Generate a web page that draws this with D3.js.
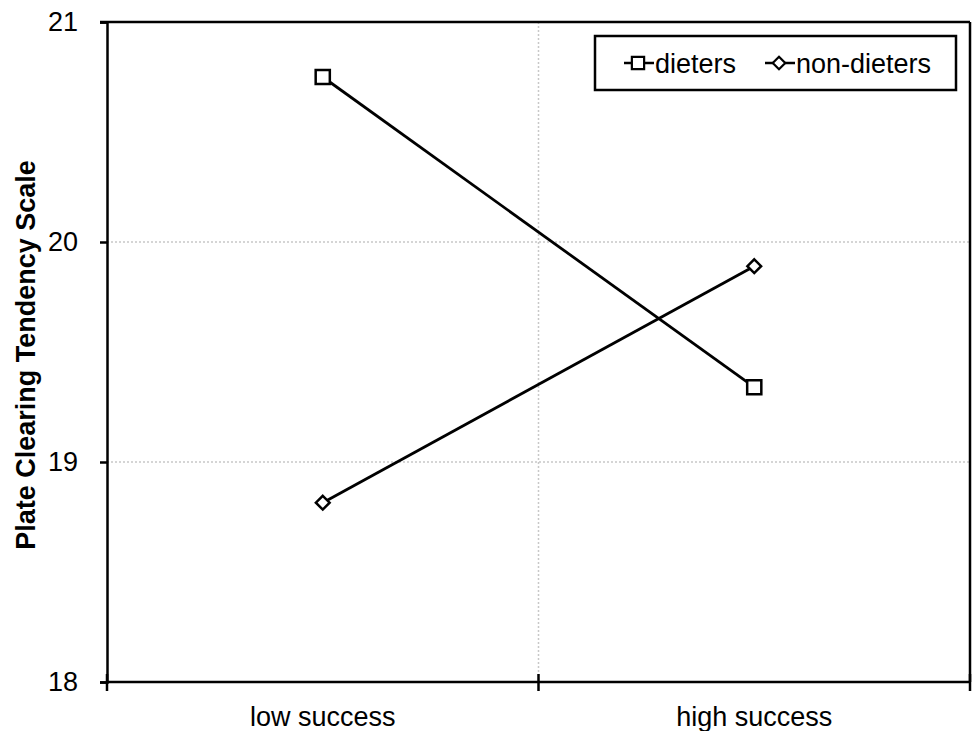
<!DOCTYPE html>
<html><head><meta charset="utf-8">
<script src="https://cdn.jsdelivr.net/npm/d3@7"></script>
<style>body{margin:0;background:#fff;} svg{display:block;font-family:"Liberation Sans",Arial,sans-serif;}</style>
</head><body>
<svg id="c" width="972" height="731"></svg>
<script>
const categories = ["low success", "high success"];
const dieters = [20.75, 19.34];
const nonDieters = [18.815, 19.89];
const yTicks = [18, 19, 20, 21];
const seriesNames = ["dieters", "non-dieters"];

const svg = d3.select("#c");
const L = 107, R = 970, T = 22, B = 682;
const x = d3.scaleBand().domain(categories).range([L, R]);
const y = d3.scaleLinear().domain([18, 21]).range([B, T]);
const cx = d => x(d) + x.bandwidth() / 2;
const FS = 27;

// gridlines
svg.append("g").selectAll("line").data([19, 20]).join("line")
  .attr("x1", L).attr("x2", R).attr("y1", d => y(d)).attr("y2", d => y(d))
  .attr("stroke", "#c8c8c8").attr("stroke-width", 1.5).attr("stroke-dasharray", "2,2");
svg.append("line").attr("x1", x(categories[1])).attr("x2", x(categories[1]))
  .attr("y1", T).attr("y2", B).attr("stroke", "#c8c8c8").attr("stroke-width", 1.5).attr("stroke-dasharray", "2,2");

// frame top/right
svg.append("line").attr("x1", L - 7).attr("x2", R).attr("y1", T).attr("y2", T).attr("stroke", "#000").attr("stroke-width", 2.5);
svg.append("line").attr("x1", R).attr("x2", R).attr("y1", T).attr("y2", B).attr("stroke", "#000").attr("stroke-width", 2.5);

// y axis
const yAxis = svg.append("g").attr("transform", `translate(${L},0)`)
  .call(d3.axisLeft(y).tickValues(yTicks).tickFormat(d3.format("d")).tickSize(7).tickPadding(22));
yAxis.select(".domain").attr("stroke", "#000").attr("stroke-width", 2.5);
yAxis.selectAll(".tick line").attr("stroke", "#000").attr("stroke-width", 2.5);
yAxis.selectAll(".tick text").attr("font-size", FS).attr("fill", "#000").attr("font-family", "Liberation Sans, Arial, sans-serif");

// x axis
const xAxis = svg.append("g").attr("transform", `translate(0,${B})`);
xAxis.append("line").attr("x1", L).attr("x2", R).attr("y1", 0).attr("y2", 0).attr("stroke", "#000").attr("stroke-width", 2.5);
xAxis.selectAll(".xt").data([L, x(categories[1]), R]).join("line")
  .attr("x1", d => d).attr("x2", d => d).attr("y1", -8).attr("y2", 9).attr("stroke", "#000").attr("stroke-width", 2.5);
xAxis.selectAll("text").data(categories).join("text")
  .attr("x", d => cx(d)).attr("y", 44).attr("text-anchor", "middle")
  .attr("font-size", FS).attr("fill", "#000").text(d => d);

// y title
svg.append("text").attr("transform", `translate(35,${355}) rotate(-90)`)
  .attr("text-anchor", "middle").attr("font-size", 27).attr("font-weight", "bold").text("Plate Clearing Tendency Scale");

const line = d3.line().x((d, i) => cx(categories[i])).y(d => y(d));
svg.append("path").datum(dieters).attr("d", line).attr("fill", "none").attr("stroke", "#000").attr("stroke-width", 2.8);
svg.append("path").datum(nonDieters).attr("d", line).attr("fill", "none").attr("stroke", "#000").attr("stroke-width", 2.8);

const sq = d3.symbol().type(d3.symbolSquare).size(200);
const dm = d3.symbol().type(d3.symbolDiamond2).size(120);
svg.selectAll(".sq").data(dieters).join("path")
  .attr("transform", (d, i) => `translate(${cx(categories[i])},${y(d)})`)
  .attr("d", sq).attr("fill", "#fff").attr("stroke", "#000").attr("stroke-width", 2.5);
svg.selectAll(".dm").data(nonDieters).join("path")
  .attr("transform", (d, i) => `translate(${cx(categories[i])},${y(d)})`)
  .attr("d", dm).attr("fill", "#fff").attr("stroke", "#000").attr("stroke-width", 2.5);

// legend
const lg = svg.append("g");
lg.append("rect").attr("x", 595).attr("y", 36).attr("width", 361).attr("height", 54)
  .attr("fill", "#fff").attr("stroke", "#000").attr("stroke-width", 2.5);
const items = [{name: seriesNames[0], x0: 624, sq: true}, {name: seriesNames[1], x0: 765, sq: false}];
items.forEach(it => {
  lg.append("line").attr("x1", it.x0).attr("x2", it.x0 + 30).attr("y1", 63).attr("y2", 63).attr("stroke", "#000").attr("stroke-width", 2.5);
  lg.append("path").attr("transform", `translate(${it.x0 + 14},63)`)
    .attr("d", it.sq ? d3.symbol().type(d3.symbolSquare).size(150)() : d3.symbol().type(d3.symbolDiamond2).size(100)())
    .attr("fill", "#fff").attr("stroke", "#000").attr("stroke-width", 2.2);
  lg.append("text").attr("x", it.x0 + 31).attr("y", 73).attr("font-size", FS).text(it.name);
});
</script>
</body></html>
